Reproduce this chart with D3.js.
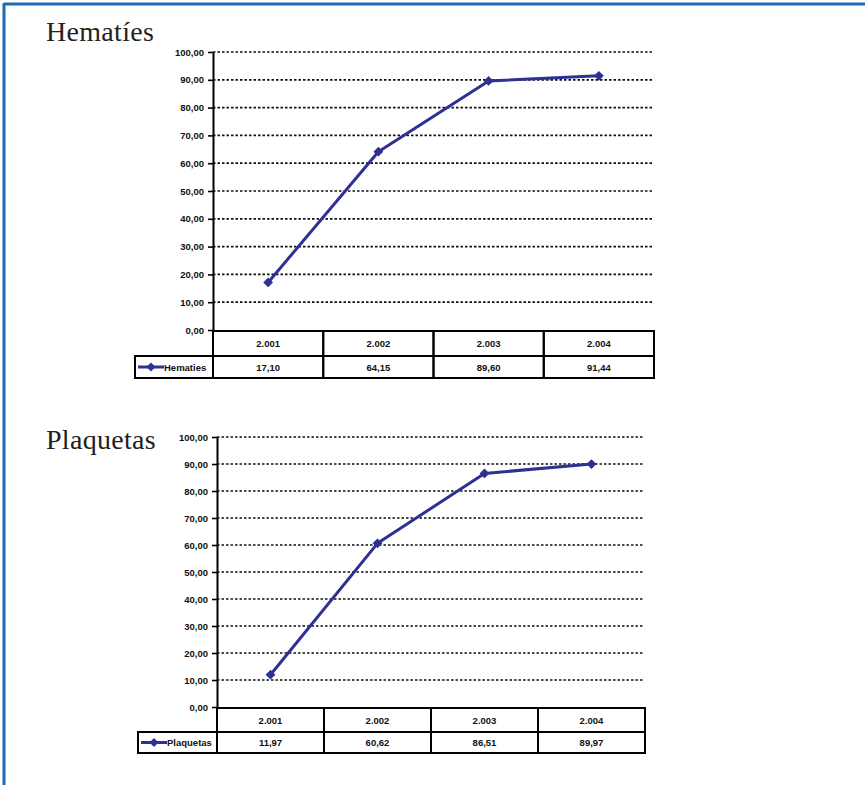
<!DOCTYPE html>
<html>
<head>
<meta charset="utf-8">
<script src="https://cdn.jsdelivr.net/npm/d3@7"></script>
<style>
  body { margin: 0; background: #fff; }
  svg { display: block; }
  .tick text, .cellText { font-family: "Liberation Sans Narrow", "Arial Narrow", "Liberation Sans", Arial, sans-serif; font-weight: bold; font-size: 9.5px; fill: #111; }
  .title { font-family: "Liberation Serif", "Times New Roman", serif; font-size: 28px; fill: #231f20; letter-spacing: 0.3px; }
</style>
</head>
<body>
<svg id="page"></svg>
<script>
// data
const years = ['2.001', '2.002', '2.003', '2.004'];
const hematiesValues = [17.10, 64.15, 89.60, 91.44];
const plaquetasValues = [11.97, 60.62, 86.51, 89.97];
const yTicks = [0, 10, 20, 30, 40, 50, 60, 70, 80, 90, 100];

const lineColor = '#2e3192';
const fmt = d3.formatLocale({decimal: ',', thousands: '.', grouping: [3], currency: ['', '']}).format('.2f');

let svg = d3.select('#page')
    .attr('width', 865)
    .attr('height', 785)

// blue frame (top + left only)
svg.append('line').attr('x1', 4).attr('x2', 865).attr('y1', 4).attr('y2', 4)
    .attr('stroke', '#1a6db3').attr('stroke-width', 3)
svg.append('line').attr('x1', 4).attr('x2', 4).attr('y1', 3).attr('y2', 785)
    .attr('stroke', '#1a6db3').attr('stroke-width', 3)

function getChartConfig(opts){
    // plot area and table rows for one chart
    let {title, legend, values, left, right, top, zeroY, tableTop, rowMid, tableBottom, legendLeft, titleY} = opts;
    let g = svg.append('g');
    return {title, legend, values, left, right, top, zeroY, tableTop, rowMid, tableBottom, legendLeft, titleY, g};
}

function getChartScales(config){
    let xScale = d3.scaleBand()
        .domain(years)
        .range([config.left, config.right])
        .padding(0)
    let yScale = d3.scaleLinear()
        .domain([0, 100])
        .range([config.zeroY, config.top])
    return {xScale, yScale};
}

function drawGrid(scales, config){
    let {yScale} = scales;
    config.g.append('g').selectAll('line')
        .data(yTicks.filter(d => d > 0))
        .enter().append('line')
        .attr('x1', config.left)
        .attr('x2', config.right - 2)
        .attr('y1', d => yScale(d))
        .attr('y2', d => yScale(d))
        .attr('stroke', '#111')
        .attr('stroke-width', 1.7)
        .attr('stroke-dasharray', '2.5,2')
}

function drawAxis(scales, config){
    let {yScale} = scales;
    let axisY = d3.axisLeft(yScale)
        .tickValues(yTicks)
        .tickFormat(fmt)
        .tickSize(5)
        .tickSizeOuter(0)
        .tickPadding(4)
    let ax = config.g.append('g')
        .attr('transform', `translate(${config.left},0)`)
        .call(axisY)
    ax.select('.domain').attr('stroke', '#000').attr('stroke-width', 2)
    ax.selectAll('.tick line').attr('stroke', '#000').attr('stroke-width', 1.6)
    ax.selectAll('.tick text').attr('class', 'cellText').attr('text-anchor', 'end')
}

function drawTable(scales, config){
    let {xScale} = scales;
    let g = config.g.append('g');
    let bw = xScale.bandwidth();
    // header row: years
    g.selectAll('.hdr').data(years).enter().append('rect')
        .attr('x', d => xScale(d)).attr('y', config.tableTop)
        .attr('width', bw).attr('height', config.rowMid - config.tableTop)
        .attr('fill', 'none').attr('stroke', '#000').attr('stroke-width', 2)
    g.selectAll('.hdrText').data(years).enter().append('text')
        .attr('class', 'cellText')
        .attr('x', d => xScale(d) + bw / 2)
        .attr('y', (config.tableTop + config.rowMid) / 2 + 3.5)
        .attr('text-anchor', 'middle')
        .text(d => d)
    // value row
    g.selectAll('.val').data(years).enter().append('rect')
        .attr('x', d => xScale(d)).attr('y', config.rowMid)
        .attr('width', bw).attr('height', config.tableBottom - config.rowMid)
        .attr('fill', 'none').attr('stroke', '#000').attr('stroke-width', 2)
    g.selectAll('.valText').data(config.values).enter().append('text')
        .attr('class', 'cellText')
        .attr('x', (d, i) => xScale(years[i]) + bw / 2)
        .attr('y', (config.rowMid + config.tableBottom) / 2 + 3.5)
        .attr('text-anchor', 'middle')
        .text(d => fmt(d))
    // legend cell
    g.append('rect')
        .attr('x', config.legendLeft).attr('y', config.rowMid)
        .attr('width', config.left - config.legendLeft).attr('height', config.tableBottom - config.rowMid)
        .attr('fill', 'none').attr('stroke', '#000').attr('stroke-width', 2)
    let ly = (config.rowMid + config.tableBottom) / 2;
    g.append('line')
        .attr('x1', config.legendLeft + 3).attr('x2', config.legendLeft + 29)
        .attr('y1', ly).attr('y2', ly)
        .attr('stroke', lineColor).attr('stroke-width', 3)
    g.append('path')
        .attr('d', d3.symbol(d3.symbolSquare, 40)())
        .attr('transform', `translate(${config.legendLeft + 16},${ly}) rotate(45)`)
        .attr('fill', lineColor)
    g.append('text')
        .attr('class', 'cellText')
        .attr('x', config.legendLeft + 29)
        .attr('y', ly + 3.5)
        .text(config.legend)
}

function drawSeries(scales, config){
    let {xScale, yScale} = scales;
    let bw = xScale.bandwidth();
    let line = d3.line()
        .x((d, i) => xScale(years[i]) + bw / 2)
        .y(d => yScale(d))
    config.g.append('path')
        .datum(config.values)
        .attr('d', line)
        .attr('fill', 'none')
        .attr('stroke', lineColor)
        .attr('stroke-width', 3)
        .attr('stroke-linejoin', 'round')
    config.g.selectAll('.mark').data(config.values).enter().append('path')
        .attr('d', d3.symbol(d3.symbolSquare, 48)())
        .attr('transform', (d, i) => `translate(${xScale(years[i]) + bw / 2},${yScale(d)}) rotate(45)`)
        .attr('fill', lineColor)
}

function drawChart(opts){
    let config = getChartConfig(opts);
    let scales = getChartScales(config);
    config.g.append('text')
        .attr('class', 'title')
        .attr('x', 46).attr('y', config.titleY)
        .text(config.title)
    drawGrid(scales, config);
    drawTable(scales, config);
    drawAxis(scales, config);
    drawSeries(scales, config);
}

drawChart({
    title: 'Hematíes', legend: 'Hematies', values: hematiesValues,
    left: 213, right: 654, top: 52, zeroY: 330,
    tableTop: 331, rowMid: 356, tableBottom: 378, legendLeft: 135, titleY: 41
});

drawChart({
    title: 'Plaquetas', legend: 'Plaquetas', values: plaquetasValues,
    left: 217, right: 645, top: 437, zeroY: 707,
    tableTop: 708, rowMid: 732, tableBottom: 753, legendLeft: 138, titleY: 449
});
</script>
</body>
</html>
